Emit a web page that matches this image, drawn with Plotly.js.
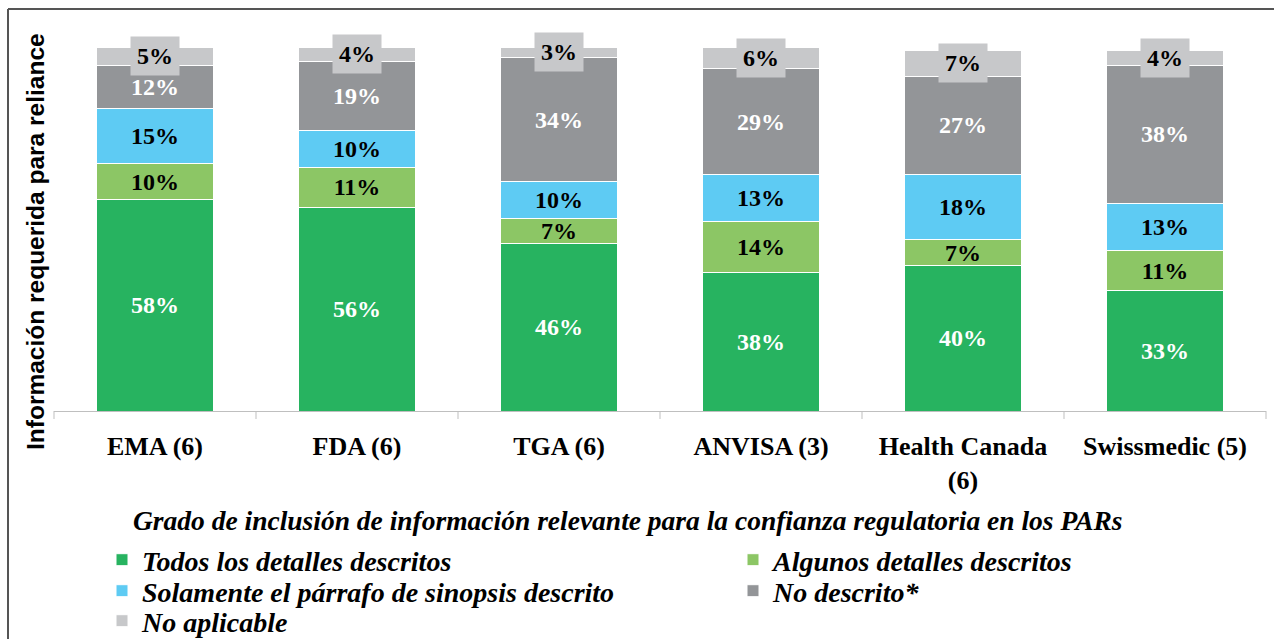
<!DOCTYPE html>
<html>
<head>
<meta charset="utf-8">
<script src="https://cdn.plot.ly/plotly-3.0.1.min.js"></script>
<style>html,body{margin:0;padding:0;background:#fff;}#chart{width:1274px;height:639px;}</style>
</head>
<body>
<div id="chart"></div>
<script>
const categories = ["EMA (6)", "FDA (6)", "TGA (6)", "ANVISA (3)", "Health Canada<br>(6)", "Swissmedic (5)"];
const seriesNames = ["Todos los detalles descritos", "Algunos detalles descritos", "Solamente el párrafo de sinopsis descrito", "No descrito*", "No aplicable"];
const todos = [58, 56, 46, 38, 40, 33];
const algunos = [10, 11, 7, 14, 7, 11];
const solamente = [15, 10, 10, 13, 18, 13];
const noDescrito = [12, 19, 34, 29, 27, 38];
const noAplicable = [5, 4, 3, 6, 7, 4];
const colors = ["#27b360", "#8cc665", "#5ecbf3", "#939598", "#c7c8ca"];
const labelColors = ["#ffffff", "#000000", "#000000", "#ffffff", "#000000"];
const legendTitle = "Grado de inclusión de información relevante para la confianza regulatoria en los PARs";
const yTitle = "Información requerida para reliance";

const series = [todos, algunos, solamente, noDescrito, noAplicable];
const SERIF = "Liberation Serif";
const SANS = "Liberation Sans";

const W = 1274, H = 639;
const M = {l: 54, r: 8, t: 47, b: 228};
const PW = W - M.l - M.r, PH = H - M.t - M.b;
const px = x => (x - M.l) / PW;          // pixel x -> paper x
const py = y => (H - M.b - y) / PH;      // pixel y -> paper y

// legend slots (pixel positions of each legend item: col start, row centre)
const legendSlots = [[102, 560], [733, 560], [102, 591], [733, 591], [102, 621]];
const legendIds = ["legend", "legend2", "legend3", "legend4", "legend5"];

const traces = series.map((vals, i) => ({
  type: "bar",
  name: seriesNames[i],
  legend: legendIds[i],
  x: categories,
  y: vals,
  text: vals.map(v => v + "%"),
  textposition: i === 4 ? "none" : "inside",
  insidetextanchor: "middle",
  textangle: 0,
  textfont: {family: SERIF, size: 24, color: labelColors[i], weight: "bold"},
  marker: {color: colors[i], line: {color: "#ffffff", width: 1}},
  hoverinfo: "skip"
}));

const annotations = categories.map((c, k) => {
  let total = 0;
  for (let i = 0; i < series.length; i++) total += series[i][k];
  return {
    x: c, y: total - noAplicable[k] / 2, xref: "x", yref: "y",
    text: "<b>" + noAplicable[k] + "%</b>", showarrow: false,
    font: {family: SERIF, size: 24, color: "#000"},
    bgcolor: colors[4], borderpad: 6
  };
});
annotations.push({
  xref: "paper", yref: "paper", x: px(628), y: py(520),
  xanchor: "center", yanchor: "middle", showarrow: false,
  text: "<b><i>" + legendTitle + "</i></b>",
  font: {family: SERIF, size: 27.5, color: "#000"}
});
annotations.push({
  xref: "paper", yref: "paper", x: px(35), y: py(242),
  xanchor: "center", yanchor: "middle", showarrow: false, textangle: -90,
  text: "<b>" + yTitle + "</b>",
  font: {family: SANS, size: 24.5, color: "#000"}
});

const layout = {
  width: W, height: H,
  margin: M,
  barmode: "stack",
  bargap: 0.425,
  paper_bgcolor: "#fff", plot_bgcolor: "#fff",
  showlegend: true,
  uniformtext: {mode: "show", minsize: 24},
  xaxis: {
    showline: true, linecolor: "#bfbfbf", linewidth: 1,
    ticks: "", showgrid: false, zeroline: false,
    tickfont: {family: SERIF, size: 26, color: "#000", weight: "bold"},
    ticklabelstandoff: 12,
    automargin: false
  },
  yaxis: {range: [0, 100], visible: false, fixedrange: true},
  annotations: annotations,
  shapes: [
    {type: "line", xref: "paper", yref: "paper", x0: px(8), x1: px(1275), y0: py(9), y1: py(9), line: {color: "#555", width: 2}},
    {type: "line", xref: "paper", yref: "paper", x0: px(8), x1: px(8), y0: py(9), y1: py(640), line: {color: "#555", width: 2}},
    ...[0, 1, 2, 3, 4, 5, 6].map(j => ({type: "line", xref: "paper", yref: "paper", x0: j / 6, x1: j / 6, y0: 0, y1: py(419), line: {color: "#bfbfbf", width: 1}}))
  ]
};

legendIds.forEach((id, i) => {
  layout[id] = {
    orientation: "h", xref: "container", yref: "container",
    x: legendSlots[i][0] / W, xanchor: "left",
    y: 1 - legendSlots[i][1] / H, yanchor: "middle",
    itemwidth: 30,
    font: {family: SERIF, size: 28, color: "#000", weight: "bold", style: "italic"},
    bgcolor: "rgba(0,0,0,0)", borderwidth: 0
  };
});

Plotly.newPlot("chart", traces, layout, {displayModeBar: false, staticPlot: true});
</script>
</body>
</html>
